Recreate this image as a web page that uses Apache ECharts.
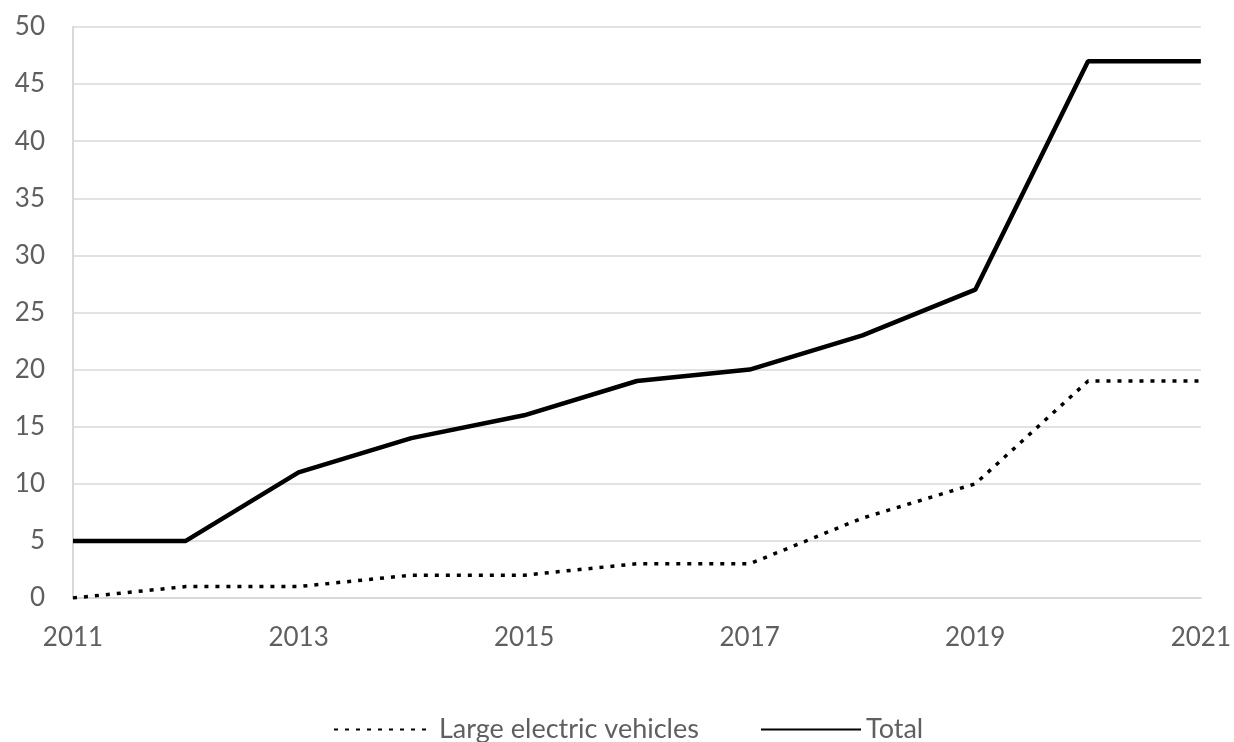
<!DOCTYPE html>
<html><head><meta charset="utf-8">
<script src="https://cdn.jsdelivr.net/npm/echarts@6/dist/echarts.min.js"></script>
<style>html,body{margin:0;padding:0;background:#fff}#c{width:1234px;height:742px}</style>
</head><body><div id="c"></div>
<script>
const years = ['2011','2012','2013','2014','2015','2016','2017','2018','2019','2020','2021'];
const largeEV = [0,1,1,2,2,3,3,7,10,19,19];
const total = [5,5,11,14,16,19,20,23,27,47,47];
const yTicks = [0,5,10,15,20,25,30,35,40,45,50];
const seriesNames = ['Large electric vehicles','Total'];

const font = 'Lato, "Open Sans", sans-serif';
const legendText = {color:'#5f5f5f',fontSize:27,fontFamily:font};
const chart = echarts.init(document.getElementById('c'));
chart.setOption({
  animation:false,
  grid:{left:73,right:30,top:27,bottom:144},
  xAxis:{type:'category',data:years,boundaryGap:false,
    axisLine:{lineStyle:{color:'#d9d9d9',width:2}},
    axisTick:{show:false},
    axisLabel:{interval:1,color:'#5f5f5f',fontSize:26,fontFamily:font,margin:27,showMaxLabel:true}},
  yAxis:{type:'value',min:yTicks[0],max:yTicks[yTicks.length-1],interval:5,
    axisLine:{show:true,lineStyle:{color:'#d9d9d9',width:2}},
    axisTick:{show:false},
    splitLine:{lineStyle:{color:'#d9d9d9',width:1.5}},
    axisLabel:{color:'#5f5f5f',fontSize:26,fontFamily:font,margin:28}},
  legend:[
    {top:716,left:333,padding:0,itemWidth:92,itemHeight:14,
      itemStyle:{opacity:0},
      textStyle:Object.assign({padding:[0,0,0,8]},legendText),
      data:[seriesNames[0]]},
    {top:716,left:760,padding:0,itemWidth:100,itemHeight:14,
      itemStyle:{opacity:0},
      textStyle:Object.assign({padding:[0,0,0,0]},legendText),
      data:[seriesNames[1]]}
  ],
  series:[
    {name:seriesNames[0],type:'line',data:largeEV,symbol:'none',
      lineStyle:{color:'#000',width:3.5,type:[4,7]},itemStyle:{color:'#000'}},
    {name:seriesNames[1],type:'line',data:total,symbol:'none',
      lineStyle:{color:'#000',width:4.5},itemStyle:{color:'#000'}}
  ]
});
</script></body></html>
